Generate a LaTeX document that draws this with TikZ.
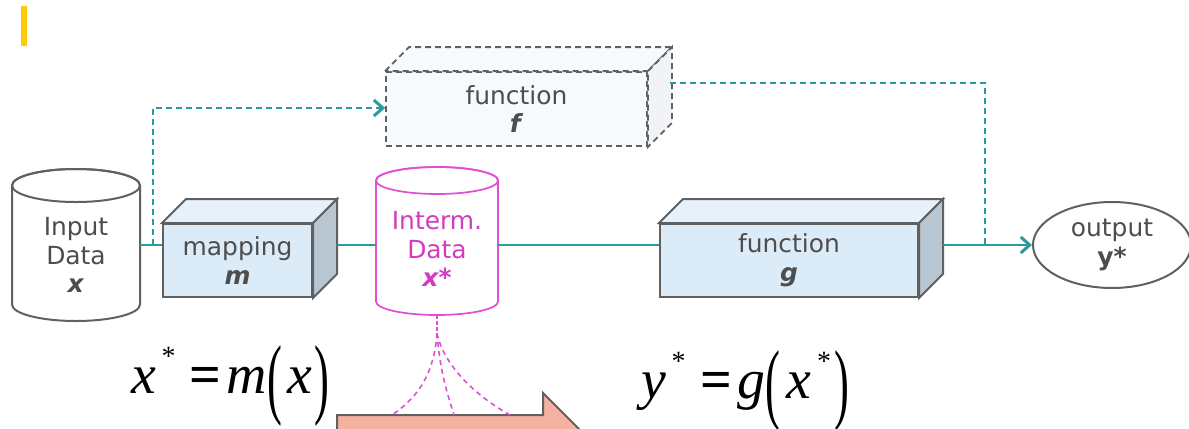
\documentclass[tikz,border=0pt]{standalone}
\usepackage{fontspec}
\setmainfont{DejaVu Sans}
\newfontfamily\eqfont{Liberation Serif}
\usepackage{graphicx}
\usetikzlibrary{arrows.meta,shapes.geometric}

\definecolor{tealline}{HTML}{2A9A9A}
\definecolor{edgegray}{HTML}{606060}
\definecolor{txtgray}{HTML}{4D4D4D}
\definecolor{magline}{HTML}{E04FD2}
\definecolor{magtext}{HTML}{D43BBF}
\definecolor{frontblue}{HTML}{DCEBF8}
\definecolor{topblue}{HTML}{E6F1FA}
\definecolor{sideblue}{HTML}{B8C6D2}
\definecolor{ghostfront}{HTML}{F7FAFD}
\definecolor{ghostside}{HTML}{F1F3F6}
\definecolor{salmon}{HTML}{F4B3A1}
\definecolor{bargold}{HTML}{FFC800}

% stretched parenthesis, raised star and heavy equals sign for the formulas
\newcommand\tallparen[1]{\raisebox{-0.26em}{\scalebox{0.8}[1.6]{#1}}}
\newcommand\upstar{\hspace{0.1em}\raisebox{0.5em}{\fontsize{28}{28}\selectfont *}}
\newcommand\heavyeq{\textbf{=}}

% top and side faces of a box whose front is node #1
\newcommand\boxfaces[4]{%
  \filldraw[#4,fill=#2] (#1.north west) -- ++(24,-24) -- ([shift={(24,-24)}]#1.north east) -- (#1.north east) -- cycle;
  \filldraw[#4,fill=#3] (#1.north east) -- ++(24,-24) -- ([shift={(24,-24)}]#1.south east) -- (#1.south east) -- cycle;
}

\tikzset{
  edge/.style={draw=edgegray,line width=2bp},
  ghostedge/.style={draw=edgegray,line width=1.8bp,dash pattern=on 6bp off 4bp},
  label/.style={text=txtgray,font=\fontsize{25}{29}\selectfont,align=center,inner sep=0pt},
  frontface/.style={edge,fill=frontblue,minimum height=73bp,inner sep=0pt,label},
  flow/.style={draw=tealline,line width=2.2bp},
  dflow/.style={flow,dash pattern=on 6bp off 4bp},
  tip/.style={-{Straight Barb[length=9bp,width=16bp,line width=3bp]}},
  fan/.style={draw=magline,line width=1.6bp,dash pattern=on 5bp off 4bp},
  formula/.style={font=\eqfont\fontsize{56}{56}\selectfont,inner sep=0pt,anchor=base west},
}

\begin{document}
\begin{tikzpicture}[x=1bp,y=-1bp]
\useasboundingbox (0,0) rectangle (1189,428);
\clip (0,0) rectangle (1189,428);
\coordinate (axis) at (0,245);

% marker bar
\fill[bargold] (21,6) rectangle (27,46);

% input data store
\path[edge,fill=white] (12,185.5) -- (12,304.5) arc[start angle=180,end angle=0,x radius=64,y radius=16.5]
  -- (140,185.5) arc[start angle=0,end angle=-180,x radius=64,y radius=16.5] -- cycle;
\draw[edge] (76,185.5) ellipse[x radius=64,y radius=16.5];
\node[minimum width=128bp,minimum height=152bp,inner sep=0pt] (inp) at (76,245) {};
\node[label] (inptext) at (76,255) {Input\\Data\\\textbf{\textit{x}}};

% mapping m
\node[frontface,minimum width=149bp] (map) at (237.5,260.5) {mapping\\\textbf{\textit{m}}};
\boxfaces{map}{topblue}{sideblue}{edge}

% intermediate data store
\path[draw=magline,line width=1.7bp,fill=white] (376,180.5) -- (376,301.5) arc[start angle=180,end angle=0,x radius=61,y radius=13.5]
  -- (498,180.5) arc[start angle=0,end angle=-180,x radius=61,y radius=13.5] -- cycle;
\draw[draw=magline,line width=1.7bp] (437,180.5) ellipse[x radius=61,y radius=13.5];
\node[minimum width=122bp,minimum height=148bp,inner sep=0pt] (intm) at (437,241) {};
\node[label,text=magtext] (intmtext) at (437,249) {Interm.\\Data\\\textbf{\textit{x*}}};

% function g
\node[frontface,minimum width=258bp] (gbox) at (789,260.5) {function\\\textbf{\textit{g}}};
\boxfaces{gbox}{topblue}{sideblue}{edge}

% function f (shortcut)
\node[frontface,ghostedge,fill=ghostfront,minimum width=261bp,minimum height=74bp] (fbox) at (516.5,109) {function\\\textbf{\textit{f}}};
\boxfaces{fbox}{ghostfront}{ghostside}{ghostedge}

% output
\node[ellipse,edge,fill=white,minimum width=158bp,minimum height=86bp,inner sep=0pt,label] (out) at (1112,245) {output\\\textbf{y*}};

% main flow
\draw[flow] (inp.east |- axis) -- (map.west |- axis);
\draw[flow] ([xshift=24bp]map.east |- axis) -- (intm.west |- axis);
\draw[flow] (intm.east |- axis) -- (gbox.west |- axis);
\draw[flow,tip] ([xshift=24bp]gbox.east |- axis) -- (out.west);

% shortcut through f
\coordinate (fork) at (153,245);
\coordinate (join) at (985,245);
\draw[dflow,tip] (fork) |- (fbox.west |- 0,108);
\draw[dflow] ([shift={(22,-26)}]fbox.east) -- (join |- 0,83) -- (join);

% formulas
\node[formula] (eqm) at (131,393) {\textit{x}\upstar\hspace{0.26em}\heavyeq\hspace{0.09em}\textit{m}\tallparen{(}\hspace{0.1em}\textit{x}\hspace{0.04em}\tallparen{)}};
\node[formula] (eqg) at (641,398) {\textit{y}\upstar\hspace{0.26em}\heavyeq\hspace{0.1em}\textit{g}\tallparen{(}\hspace{0.12em}\textit{x}\upstar\hspace{0.06em}\tallparen{)}};

% arrow below
\filldraw[edge,fill=salmon] (337,440) -- (337,415) -- (543,415) -- (543,393) -- (592,442) -- cycle;
\coordinate (a1) at (392,415);
\coordinate (a2) at (454,415);
\coordinate (a3) at (510,415);

% magenta fan
\draw[fan,dash pattern=on 4bp off 2bp] (intm.south) -- ++(0,18) coordinate (fanroot);
\draw[fan] (fanroot) .. controls (434,372) and (420,396) .. (a1);
\draw[fan] (fanroot) .. controls (440,372) and (448,396) .. (a2);
\draw[fan] (fanroot) .. controls (444,366) and (476,396) .. (a3);
\end{tikzpicture}
\end{document}
